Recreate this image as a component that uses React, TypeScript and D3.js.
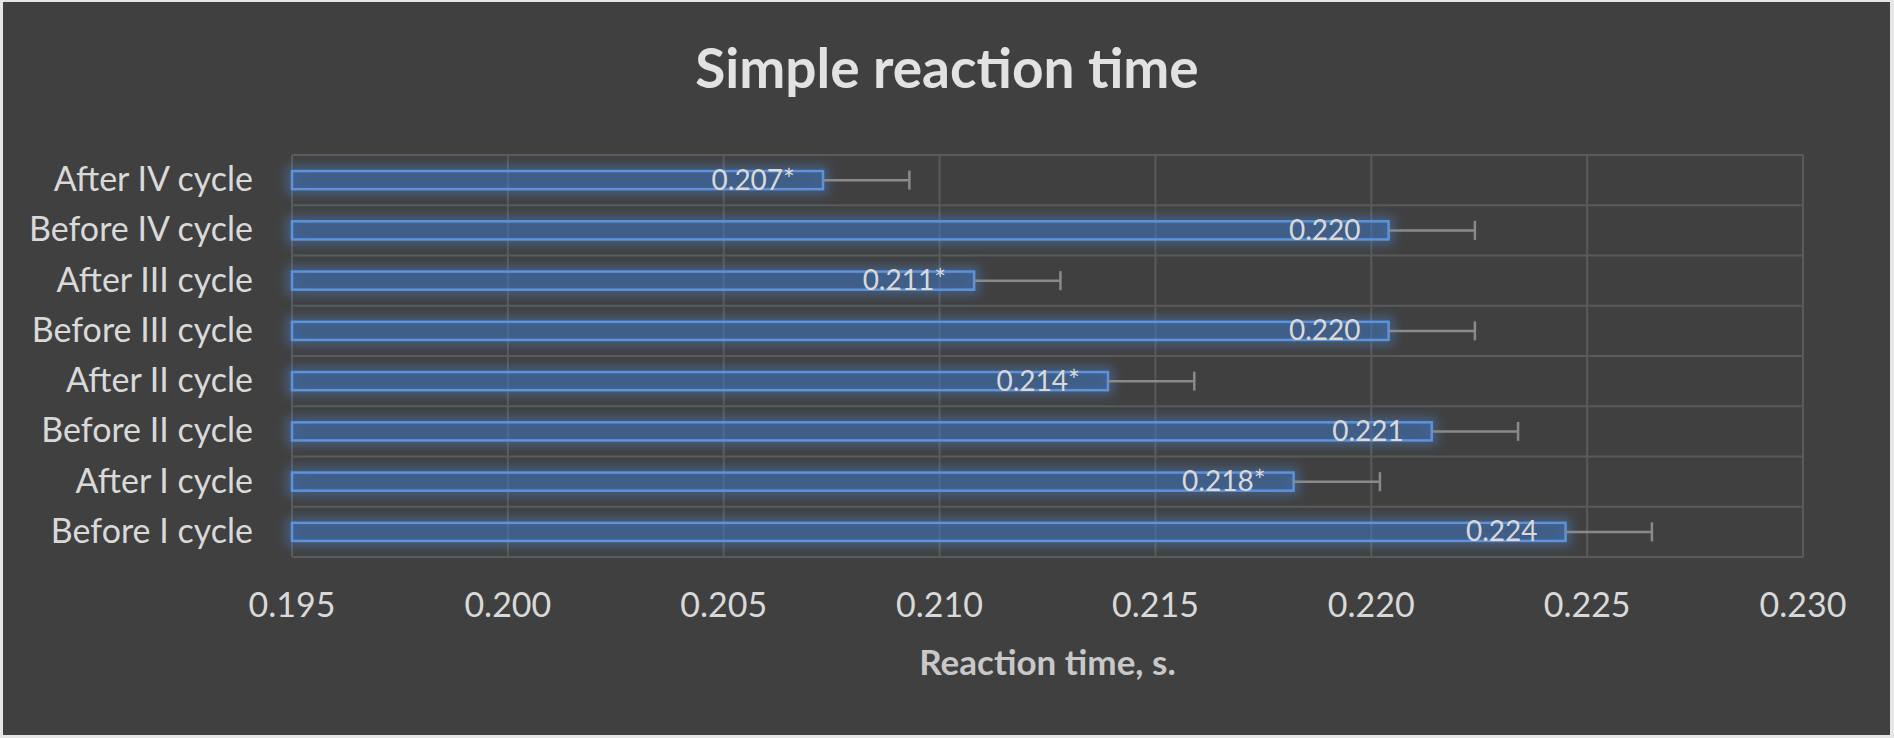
import React from 'react';
import * as d3 from 'd3';

// Categories listed bottom-to-top, like the source spreadsheet
const categories = [
  'Before I cycle',
  'After I cycle',
  'Before II cycle',
  'After II cycle',
  'Before III cycle',
  'After III cycle',
  'Before IV cycle',
  'After IV cycle',
];
const values = [0.2245, 0.2182, 0.2214, 0.2139, 0.2204, 0.2108, 0.2204, 0.2073];
const errors = [0.002, 0.002, 0.002, 0.002, 0.002, 0.002, 0.002, 0.002];
const valueLabels = ['0.224', '0.218*', '0.221', '0.214*', '0.220', '0.211*', '0.220', '0.207*'];
const xTicks = [0.195, 0.2, 0.205, 0.21, 0.215, 0.22, 0.225, 0.23];

const W = 1894;
const H = 738;
const plot = { left: 292, right: 1803, top: 155, bottom: 557 };
const FONT = 'Lato, "Open Sans", sans-serif';

export default function App() {
  const x = d3.scaleLinear().domain([0.195, 0.23]).range([plot.left, plot.right]);
  const y = d3
    .scaleBand<string>()
    .domain([...categories].reverse())
    .range([plot.top, plot.bottom])
    .paddingInner(0.64)
    .paddingOuter(0.32);

  const step = y.step();
  const bounds = d3.range(categories.length + 1).map(i => plot.top + i * step);
  const fmt = d3.format('.3f');

  const rows = categories.map((c, i) => ({
    cat: c,
    v: values[i],
    err: errors[i],
    label: valueLabels[i],
  }));

  return (
    <div style={{ position: 'absolute', left: 0, top: 0 }}>
      <svg width={W} height={H} style={{ display: 'block' }}>
        <defs>
          <filter id="glow" x="-5%" y="-100%" width="110%" height="300%">
            <feMorphology in="SourceAlpha" operator="dilate" radius="4" result="fat" />
            <feGaussianBlur in="fat" stdDeviation="5.5" result="blur" />
            <feFlood floodColor="#4f86d0" floodOpacity="0.45" />
            <feComposite in2="blur" operator="in" result="glowColor" />
            <feMerge>
              <feMergeNode in="glowColor" />
              <feMergeNode in="SourceGraphic" />
            </feMerge>
          </filter>
        </defs>

        <rect x={0} y={0} width={W} height={H} fill="#e6e6e6" />
        <rect x={3} y={2} width={W - 7} height={H - 5} fill="#404040" />

        {/* title */}
        <text
          x={947}
          y={88}
          textAnchor="middle"
          fontFamily={FONT}
          fontWeight="bold"
          fontSize={55}
          fill="#e2e2e2"
        >
          Simple reaction time
        </text>

        {/* gridlines */}
        <g stroke="#5a5a5a" strokeWidth={2}>
          {xTicks.map(t => (
            <line key={'v' + t} x1={x(t)} x2={x(t)} y1={plot.top} y2={plot.bottom} />
          ))}
          {bounds.map((b, i) => (
            <line key={'h' + i} x1={plot.left} x2={plot.right} y1={b} y2={b} />
          ))}
        </g>

        {/* bars */}
        <g filter="url(#glow)">
          {rows.map(r => (
            <rect
              key={r.cat}
              x={x(0.195)}
              y={y(r.cat)}
              width={x(r.v) - x(0.195)}
              height={y.bandwidth()}
              fill="rgba(55,105,180,0.38)"
              stroke="#5b93dc"
              strokeWidth={2.5}
            />
          ))}
        </g>

        {/* error bars */}
        <g stroke="#8a8a8a" strokeWidth={2.5}>
          {rows.map(r => {
            const cy = (y(r.cat) as number) + y.bandwidth() / 2;
            return (
              <g key={'e' + r.cat}>
                <line x1={x(r.v)} x2={x(r.v + r.err)} y1={cy} y2={cy} />
                <line x1={x(r.v + r.err)} x2={x(r.v + r.err)} y1={cy - 9.5} y2={cy + 9.5} />
              </g>
            );
          })}
        </g>

        {/* data labels */}
        {rows.map(r => {
          const cy = (y(r.cat) as number) + y.bandwidth() / 2;
          return (
            <text
              key={'l' + r.cat}
              x={x(r.v) - 28}
              y={cy + 9.5}
              textAnchor="end"
              fontFamily={FONT}
              fontSize={28}
              fill="#d9d9d9"
            >
              {r.label}
            </text>
          );
        })}

        {/* category labels */}
        {rows.map(r => {
          const cy = (y(r.cat) as number) + y.bandwidth() / 2;
          return (
            <text
              key={'c' + r.cat}
              x={253}
              y={cy + 11}
              textAnchor="end"
              fontFamily={FONT}
              fontSize={34}
              fill="#d9d9d9"
            >
              {r.cat}
            </text>
          );
        })}

        {/* x tick labels */}
        {xTicks.map(t => (
          <text
            key={'t' + t}
            x={x(t)}
            y={617}
            textAnchor="middle"
            fontFamily={FONT}
            fontSize={34}
            fill="#d9d9d9"
          >
            {fmt(t)}
          </text>
        ))}

        {/* axis title */}
        <text
          x={(plot.left + plot.right) / 2}
          y={675}
          textAnchor="middle"
          fontFamily={FONT}
          fontWeight="bold"
          fontSize={35}
          fill="#c8c8c8"
        >
          Reaction time, s.
        </text>
      </svg>
    </div>
  );
}
